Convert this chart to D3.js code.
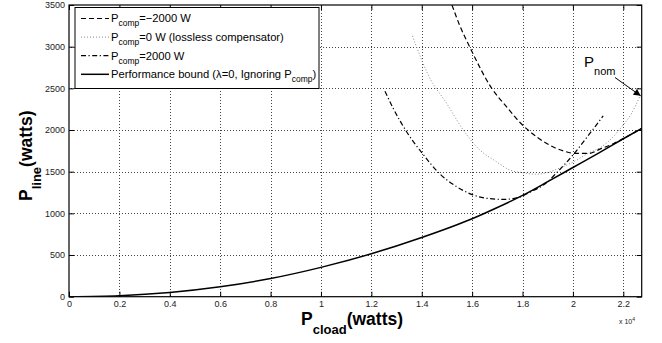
<!DOCTYPE html>
<html>
<head>
  <meta charset="UTF-8" />
  <style>
    body { margin: 0; background: #fff; }
    svg { font-family: "Liberation Sans", Arial, Helvetica, sans-serif; display: block; }
    .tick text { font-size: 9px; fill: #222; }
  </style>
  <script src="https://d3js.org/d3.v7.min.js"></script>
</head>
<body>
  <script>
    // tick values
    let xTicks = [0, 2000, 4000, 6000, 8000, 10000, 12000, 14000, 16000, 18000, 20000, 22000];
    let yTicks = [0, 500, 1000, 1500, 2000, 2500, 3000, 3500];

    // performance bound (solid)
    let boundX = [0, 2000, 4000, 6000, 8000, 10000, 12000, 14000, 16000, 17000, 18000, 19000, 20000, 21000, 22000, 22730];
    let boundY = [0, 12, 50, 118, 218, 352, 515, 710, 935, 1070, 1215, 1380, 1550, 1720, 1895, 2020];

    // Pcomp = -2000 W (dashed)
    let negX = [15200, 15500, 15900, 16780, 17370, 17900, 18300, 18960, 19300, 19620, 20080, 20610, 21140, 21600, 22000, 22730];
    let negY = [3500, 3260, 3000, 2500, 2278, 2090, 1979, 1839, 1785, 1750, 1719, 1719, 1779, 1835, 1897, 2020];

    // Pcomp = 0 W (dotted)
    let zeroX = [13630, 14000, 14260, 14990, 15650, 16310, 16970, 17500, 18030, 18500, 18960, 19490, 20100, 20600, 21140, 21540, 21940, 22330, 22650];
    let zeroY = [3130, 2838, 2658, 2319, 1999, 1759, 1619, 1519, 1487, 1470, 1487, 1545, 1630, 1720, 1800, 1900, 2040, 2200, 2400];

    // Pcomp = 2000 W (dash-dot)
    let posX = [12540, 12870, 13400, 14000, 14730, 15390, 15980, 16580, 17240, 17770, 18300, 18960, 19300, 20000, 20600, 21200];
    let posY = [2466, 2259, 1979, 1729, 1470, 1319, 1228, 1180, 1168, 1185, 1255, 1370, 1470, 1700, 1930, 2170];

    let legendNames = ["=\u22122000 W", "=0 W (lossless compensator)", "=2000 W", "Performance bound (\u03bb=0, Ignoring P"];

    let W = 662, H = 343;
    let plotL = 69, plotR = 641.7, plotT = 5, plotB = 296.7;

    let svg = d3.select("body").append("svg")
      .attr("width", W)
      .attr("height", H);

    let x = d3.scaleLinear().domain([0, 22730]).range([plotL, plotR]);
    let y = d3.scaleLinear().domain([0, 3500]).range([plotB, plotT]);

    /* dotted grid: one small square every 3 px along each grid line */
    let gridDots = [];
    xTicks.slice(1).forEach(d => {
      let px = Math.round(x(d));
      d3.range(Math.ceil(plotT) + 2, plotB - 1, 3).forEach(py => gridDots.push([px, py]));
    });
    yTicks.slice(1, -1).forEach(d => {
      let py = Math.round(y(d));
      d3.range(Math.ceil(plotL) + 2, plotR - 1, 3).forEach(px => gridDots.push([px, py]));
    });
    svg.append("g").attr("fill", "#444")
      .selectAll("rect").data(gridDots).enter().append("rect")
      .attr("x", d => d[0]).attr("y", d => d[1])
      .attr("width", 1).attr("height", 1);

    /* axes, MATLAB style inner ticks */
    let axes = svg.append("g").attr("class", "axes");
    axes.append("g")
      .attr("transform", `translate(0,${plotB})`)
      .call(d3.axisBottom(x).tickValues(xTicks).tickSizeInner(-5).tickSizeOuter(0).tickPadding(4)
        .tickFormat(d => String(+(d / 1e4).toFixed(1))));
    axes.append("g")
      .attr("transform", `translate(0,${plotT})`)
      .call(d3.axisTop(x).tickValues(xTicks).tickSizeInner(-5).tickSizeOuter(0).tickFormat(""));
    axes.append("g")
      .attr("transform", `translate(${plotL},0)`)
      .call(d3.axisLeft(y).tickValues(yTicks).tickSizeInner(-5).tickSizeOuter(0).tickPadding(4)
        .tickFormat(d3.format("d")));
    axes.append("g")
      .attr("transform", `translate(${plotR},0)`)
      .call(d3.axisRight(y).tickValues(yTicks).tickSizeInner(-5).tickSizeOuter(0).tickFormat(""));
    svg.selectAll(".domain").remove();
    axes.selectAll(".tick line").attr("stroke", "#000");

    svg.append("rect")
      .attr("x", plotL).attr("y", plotT)
      .attr("width", plotR - plotL).attr("height", plotB - plotT)
      .attr("fill", "none").attr("stroke", "#000").attr("stroke-width", 1.2);

    /* curves */
    let line = d3.line().x(d => x(d[0])).y(d => y(d[1])).curve(d3.curveMonotoneX);
    let series = [
      { xs: zeroX, ys: zeroY, color: "#888", width: 1, dash: "1,2" },
      { xs: posX, ys: posY, color: "#000", width: 1.2, dash: "5,2.5,1.2,2.5" },
      { xs: negX, ys: negY, color: "#000", width: 1.2, dash: "5,3" },
      { xs: boundX, ys: boundY, color: "#000", width: 1.5, dash: null }
    ];
    svg.append("clipPath").attr("id", "clip").append("rect")
      .attr("x", plotL).attr("y", plotT).attr("width", plotR - plotL).attr("height", plotB - plotT);
    svg.append("g").attr("clip-path", "url(#clip)")
      .selectAll("path").data(series).enter().append("path")
      .attr("d", s => line(s.xs.map((v, i) => [v, s.ys[i]])))
      .attr("fill", "none")
      .attr("stroke", s => s.color)
      .attr("stroke-width", s => s.width)
      .attr("stroke-dasharray", s => s.dash);

    /* legend */
    let legendStyles = [series[2], series[0], series[1], series[3]];
    let lg = svg.append("g").attr("transform", "translate(75,7.5)");
    lg.append("rect").attr("width", 244).attr("height", 81)
      .attr("fill", "#fff").attr("stroke", "#000").attr("stroke-width", 1);
    legendNames.forEach((name, i) => {
      let yy = 11 + i * 18.6;
      let s = legendStyles[i];
      lg.append("line")
        .attr("x1", 6).attr("x2", 34).attr("y1", yy).attr("y2", yy)
        .attr("stroke", s.color).attr("stroke-width", s.width).attr("stroke-dasharray", s.dash);
      let t = lg.append("text").attr("x", 36).attr("y", yy + 3.8).attr("font-size", "11.2px");
      if (i < 3) {
        t.append("tspan").text("P");
        t.append("tspan").attr("font-size", "8.5px").attr("dy", 4).text("comp");
        t.append("tspan").attr("dy", -4).text(name);
      } else {
        t.append("tspan").text(name);
        t.append("tspan").attr("font-size", "8.5px").attr("dy", 4).text("comp");
        t.append("tspan").attr("dy", -4).text(")");
      }
    });

    /* axis labels */
    let xl = svg.append("text").attr("x", 301).attr("y", 325)
      .attr("font-size", "17.5px").attr("font-weight", "bold");
    xl.append("tspan").text("P");
    xl.append("tspan").attr("font-size", "13px").attr("dy", 9).text("cload");
    xl.append("tspan").attr("dy", -9).text("(watts)");

    let yl = svg.append("text").attr("transform", "translate(32,201) rotate(-90)")
      .attr("font-size", "17.5px").attr("font-weight", "bold");
    yl.append("tspan").text("P");
    yl.append("tspan").attr("font-size", "13px").attr("dy", 9).text("line");
    yl.append("tspan").attr("dy", -9).text("(watts)");

    let ex = svg.append("text").attr("x", 619).attr("y", 324).attr("font-size", "7px").attr("fill", "#222");
    ex.append("tspan").text("x 10");
    ex.append("tspan").attr("font-size", "5px").attr("dy", -3).text("4");

    /* P_nom annotation */
    let pn = svg.append("text").attr("x", 584).attr("y", 67).attr("font-size", "15px");
    pn.append("tspan").text("P");
    pn.append("tspan").attr("font-size", "11px").attr("dy", 8).text("nom");

    svg.append("defs").append("marker")
      .attr("id", "arrow").attr("viewBox", "0 0 10 10")
      .attr("refX", 10).attr("refY", 5)
      .attr("markerWidth", 9).attr("markerHeight", 7)
      .attr("markerUnits", "userSpaceOnUse")
      .attr("orient", "auto")
      .append("path").attr("d", "M0,0 L10,5 L0,10 Z").attr("fill", "#000");
    svg.append("line")
      .attr("x1", 615).attr("y1", 77.5)
      .attr("x2", x(22730) - 1).attr("y2", y(2410))
      .attr("stroke", "#000").attr("stroke-width", 1)
      .attr("marker-end", "url(#arrow)");
  </script>
</body>
</html>
